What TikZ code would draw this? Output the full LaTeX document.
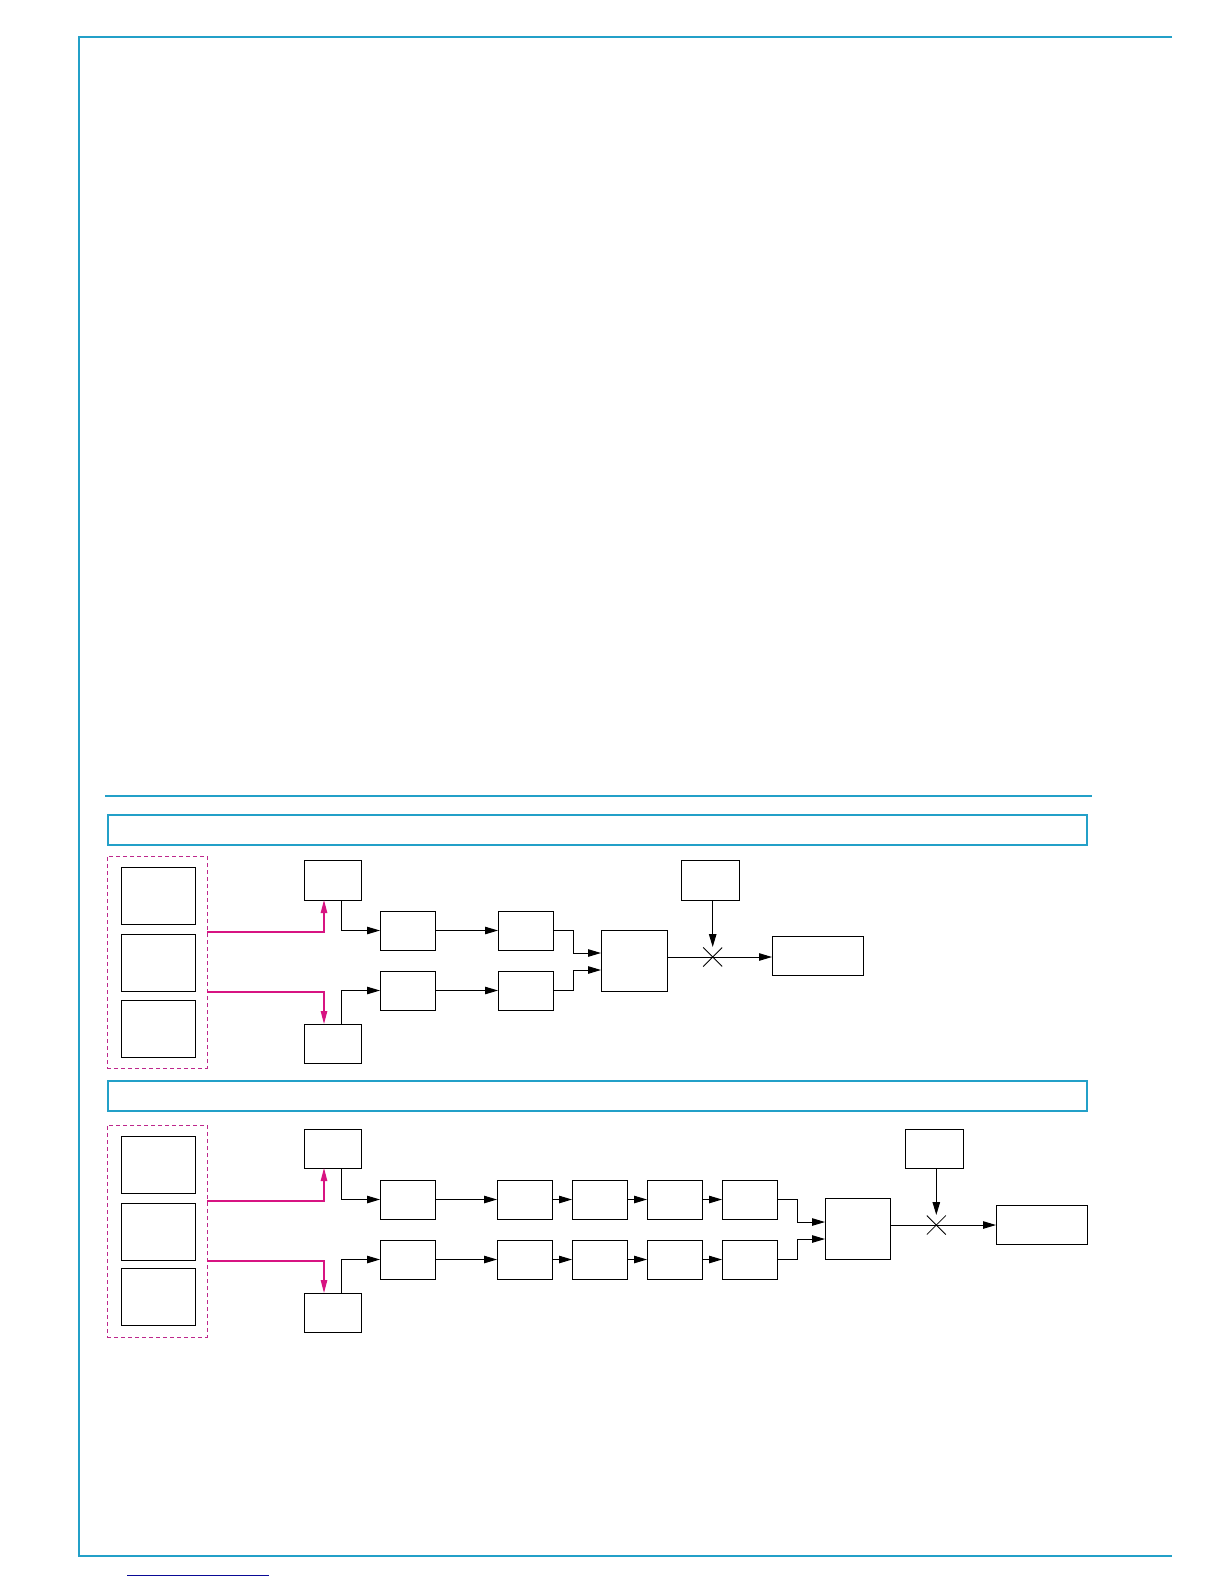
\documentclass[tikz,border=0pt]{standalone}
\usetikzlibrary{arrows.meta,calc}
\definecolor{frameblue}{RGB}{35,160,200}
\definecolor{magline}{RGB}{215,20,130}
\definecolor{magdash}{RGB}{190,40,140}
\definecolor{linknavy}{RGB}{10,10,150}
\tikzset{
  blk/.style={draw=black,line width=0.95pt,inner sep=0pt,outer sep=0pt,fill=white},
  hdrbox/.style={draw=frameblue,line width=1.4pt,inner sep=0pt,outer sep=0pt},
  dashbox/.style={draw=magdash,line width=1pt,dash pattern=on 4pt off 3pt,inner sep=0pt,outer sep=0pt},
  conn/.style={line width=0.95pt,-{Triangle[length=13pt,width=7.5pt]}},
  magconn/.style={draw=magline,line width=1.1pt,-{Triangle[length=13pt,width=6.5pt]}},
  framel/.style={draw=frameblue,line width=1.4pt},
  crossl/.style={line width=0.8pt}
}
\newcommand\bx[6][]{\node[blk,#1,minimum width={(#4-#2)*1pt},minimum height={(#5-#3)*1pt}] (#6) at ({(#2+#4)/2},{(#3+#5)/2}) {};}
\begin{document}
\begin{tikzpicture}[x=1pt,y=-1pt]
\useasboundingbox (0,0) rectangle (1224,1584);
% page frame
\draw[framel] (1172,37) -- (79,37) -- (79,1556) -- (1172,1556);
\draw[draw=linknavy,line width=1pt] (127,1575) -- (269,1575);
% divider
\draw[framel,line width=1.3pt] (105,796) -- (1092,796);
% header boxes
\bx[hdrbox,fill=none]{108}{815}{1087}{845}{hdr1}
\bx[hdrbox,fill=none]{108}{1081}{1087}{1111}{hdr2}

% ===== Panel 1 =====
\bx[dashbox,fill=none]{107}{856}{207}{1068}{dash1}
\bx{121}{867}{195}{924}{o11}
\bx{121}{934}{195}{991}{o12}
\bx{121}{1000}{195}{1057}{o13}
\bx{304}{860}{361}{900}{a1}
\bx{304}{1024}{361}{1063}{b1}
\bx{380}{911}{435}{950}{c1}
\bx{380}{971}{435}{1010}{d1}
\bx{498}{911}{553}{950}{e1}
\bx{498}{971}{553}{1010}{f1}
\bx{601}{930}{667}{991}{g1}
\bx{681}{860}{739}{900}{h1}
\bx{772}{936}{863}{975}{i1}
\coordinate (m11) at (324,932);
\coordinate (m12) at (324,992);
\coordinate (k1) at (341,0);
\coordinate (jn11) at (573,953);
\coordinate (jn12) at (573,970);
\coordinate (x1) at (712.7,957);
\draw[magconn] (dash1.east |- m11) -| (a1.south -| m11);
\draw[magconn] (dash1.east |- m12) -| (b1.north -| m12);
\draw[conn] (a1.south -| k1) |- (c1.west);
\draw[conn] (b1.north -| k1) |- (d1.west);
\draw[conn] (c1.east) -- (e1.west);
\draw[conn] (d1.east) -- (f1.west);
\draw[conn] (e1.east) -| (jn11) -- (g1.west |- jn11);
\draw[conn] (f1.east) -| (jn12) -- (g1.west |- jn12);
\draw[conn] (g1.east |- x1) -- (i1.west |- x1);
\draw[conn,shorten >=10pt] (h1.south -| x1) -- (x1);
\draw[crossl] ($(x1)+(-9.5,-9.5)$) -- ($(x1)+(9.5,9.5)$);
\draw[crossl] ($(x1)+(-9.5,9.5)$) -- ($(x1)+(9.5,-9.5)$);

% ===== Panel 2 =====
\bx[dashbox,fill=none]{107}{1125}{207}{1337}{dash2}
\bx{121}{1136}{195}{1193}{o21}
\bx{121}{1203}{195}{1260}{o22}
\bx{121}{1268}{195}{1325}{o23}
\bx{304}{1129}{361}{1168}{a2}
\bx{304}{1293}{361}{1332}{b2}
\bx{380}{1180}{435}{1219}{c2}
\bx{380}{1240}{435}{1279}{d2}
\bx{497}{1180}{552}{1219}{e2}
\bx{572}{1180}{627}{1219}{p2}
\bx{647}{1180}{702}{1219}{q2}
\bx{722}{1180}{777}{1219}{r2}
\bx{497}{1240}{552}{1279}{f2}
\bx{572}{1240}{627}{1279}{s2}
\bx{647}{1240}{702}{1279}{t2}
\bx{722}{1240}{777}{1279}{u2}
\bx{825}{1198}{890}{1259}{g2}
\bx{905}{1129}{963}{1168}{h2}
\bx{996}{1205}{1087}{1244}{i2}
\coordinate (m21) at (324,1201);
\coordinate (m22) at (324,1261);
\coordinate (jn21) at (797,1222);
\coordinate (jn22) at (797,1239);
\coordinate (x2) at (936.3,1225);
\draw[magconn] (dash2.east |- m21) -| (a2.south -| m21);
\draw[magconn] (dash2.east |- m22) -| (b2.north -| m22);
\draw[conn] (a2.south -| k1) |- (c2.west);
\draw[conn] (b2.north -| k1) |- (d2.west);
\draw[conn] (c2.east) -- (e2.west);
\draw[conn] (e2.east) -- (p2.west);
\draw[conn] (p2.east) -- (q2.west);
\draw[conn] (q2.east) -- (r2.west);
\draw[conn] (d2.east) -- (f2.west);
\draw[conn] (f2.east) -- (s2.west);
\draw[conn] (s2.east) -- (t2.west);
\draw[conn] (t2.east) -- (u2.west);
\draw[conn] (r2.east) -| (jn21) -- (g2.west |- jn21);
\draw[conn] (u2.east) -| (jn22) -- (g2.west |- jn22);
\draw[conn] (g2.east |- x2) -- (i2.west |- x2);
\draw[conn,shorten >=10pt] (h2.south -| x2) -- (x2);
\draw[crossl] ($(x2)+(-9.5,-9.5)$) -- ($(x2)+(9.5,9.5)$);
\draw[crossl] ($(x2)+(-9.5,9.5)$) -- ($(x2)+(9.5,-9.5)$);
\end{tikzpicture}
\end{document}
